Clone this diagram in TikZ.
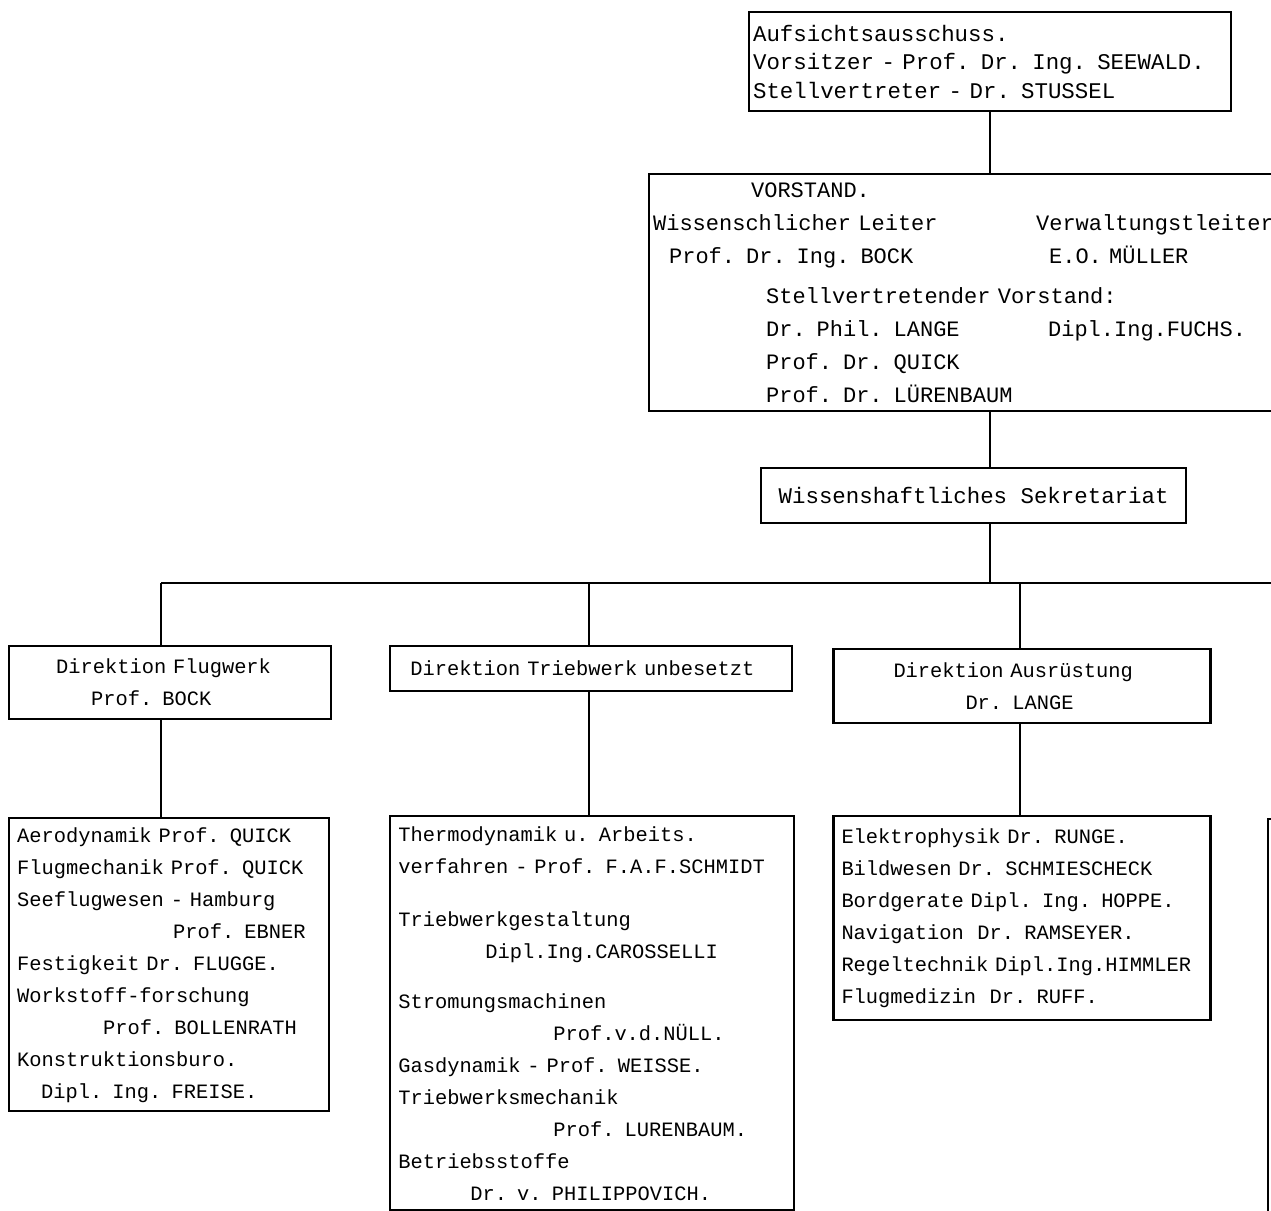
\documentclass[tikz,border=0pt]{standalone}
\usepackage{fontspec}
\setmonofont{Liberation Mono}
\usepackage{tikz}
\usetikzlibrary{positioning}
\newcommand{\shiftin}[1]{\hspace*{#1}}

\begin{document}
\begin{tikzpicture}[x=0.5pt,y=-0.5pt,line width=1.1pt,
  every node/.style={inner ysep=0pt},
  headbox/.style={draw,anchor=north west,align=left,inner xsep=2pt,font=\ttfamily\fontsize{11.2}{14.25}\selectfont},
  dirbox/.style={draw,anchor=north west,align=left,inner xsep=2pt,font=\ttfamily\fontsize{10.2}{16}\selectfont},
  deptbox/.style={draw,anchor=north west,align=left,inner xsep=4pt,font=\ttfamily\fontsize{10.2}{16}\selectfont}]
  \useasboundingbox (0,0) rectangle (1271,1211);
  \clip (0,0) rectangle (1271,1211);
  % top of the chart
  \node[headbox,text width=237pt,minimum height=49.5pt](aufs) at (748,11) {Aufsichtsausschuss.\\
    Vorsitzer - Prof. Dr. Ing. SEEWALD.\\
    Stellvertreter - Dr. STUSSEL};
  \node[headbox,text width=322pt,minimum height=118.5pt,font=\ttfamily\fontsize{11}{16.5}\selectfont](vorst) at (648,173) {\shiftin{49pt}VORSTAND.\\
    \makebox[191.5pt][l]{Wissenschlicher Leiter}Verwaltungstleiter\\
    \shiftin{8pt}\makebox[190pt][l]{Prof. Dr. Ing. BOCK}E.O. MÜLLER\\[3.5pt]
    \shiftin{56.5pt}Stellvertretender Vorstand:\\
    \shiftin{56.5pt}\makebox[141pt][l]{Dr. Phil. LANGE}Dipl.Ing.FUCHS.\\
    \shiftin{56.5pt}Prof. Dr. QUICK\\
    \shiftin{56.5pt}Prof. Dr. LÜRENBAUM};
  \node[headbox,align=center,minimum width=212.5pt,minimum height=27.5pt](sekr) at (760,467) {Wissenshaftliches Sekretariat};
  \coordinate (bus) at (0,583);
  \coordinate (busend) at (1300,583);
  % direktionen
  \node[dirbox,text width=157pt,minimum height=36.5pt](flug) at (8,645) {\shiftin{21.5pt}Direktion Flugwerk\\
    \shiftin{39pt}Prof. BOCK};
  \node[dirbox,text width=197pt,minimum height=22.5pt](trieb) [right=28.5pt of flug.north east,anchor=north west] {\shiftin{8pt}Direktion Triebwerk unbesetzt};
  \node[dirbox,text width=184.5pt,minimum height=37pt](ausr) [right=19.5pt of trieb.north east,anchor=north west,yshift=-1.5pt] {\shiftin{28pt}Direktion Ausrüstung\\
    \shiftin{64pt}Dr. LANGE};
  % abteilungen
  \node[deptbox,text width=152pt,minimum height=146.5pt](flugsub) [below=48.5pt of flug.south west,anchor=north west] {Aerodynamik Prof. QUICK\\
    Flugmechanik Prof. QUICK\\
    Seeflugwesen - Hamburg\\
    \shiftin{78pt}Prof. EBNER\\
    Festigkeit Dr. FLUGGE.\\
    Workstoff-forschung\\
    \shiftin{43pt}Prof. BOLLENRATH\\
    Konstruktionsburo.\\
    \shiftin{12pt}Dipl. Ing. FREISE.};
  \node[deptbox,text width=194pt,minimum height=197pt](triebsub) [below=61.5pt of trieb.south west,anchor=north west] {Thermodynamik u. Arbeits.\\
    verfahren - Prof. F.A.F.SCHMIDT\\[10.5pt]
    Triebwerkgestaltung\\
    \shiftin{43.5pt}Dipl.Ing.CAROSSELLI\\[9pt]
    Stromungsmachinen\\
    \shiftin{77.5pt}Prof.v.d.NÜLL.\\
    Gasdynamik - Prof. WEISSE.\\
    Triebwerksmechanik\\
    \shiftin{77.5pt}Prof. LURENBAUM.\\
    Betriebsstoffe\\
    \shiftin{36pt}Dr. v. PHILIPPOVICH.};
  \node[deptbox,text width=180.5pt,minimum height=102pt](ausrsub) [below=45.5pt of ausr.south west,anchor=north west] {Elektrophysik Dr. RUNGE.\\
    Bildwesen Dr. SCHMIESCHECK\\
    Bordgerate Dipl. Ing. HOPPE.\\
    Navigation\ \ Dr. RAMSEYER.\\
    Regeltechnik Dipl.Ing.HIMMLER\\
    Flugmedizin\ \ Dr. RUFF.};
  \node[draw,anchor=north west,minimum width=100pt,minimum height=250pt](nextsub) at (1267,818) {};
  % lines
  \draw (aufs.south) -- (aufs.south |- vorst.north);
  \draw (aufs.south |- vorst.south) -- (aufs.south |- sekr.north);
  \draw (aufs.south |- sekr.south) -- (aufs.south |- bus);
  \draw ([xshift=-4.5pt]flug.north |- bus) -- (busend);
  \draw ([xshift=-4.5pt]flug.north) -- ([xshift=-4.5pt]flug.north |- bus);
  \draw ([xshift=-1pt]trieb.north) -- ([xshift=-1pt]trieb.north |- bus);
  \draw ([xshift=-1pt]ausr.north) -- ([xshift=-1pt]ausr.north |- bus);
  \draw ([xshift=-4.5pt]flug.south) -- ([xshift=-4.5pt]flug.south |- flugsub.north);
  \draw ([xshift=-1pt]trieb.south) -- ([xshift=-1pt]trieb.south |- triebsub.north);
  \draw ([xshift=-1pt]ausr.south) -- ([xshift=-1pt]ausr.south |- ausrsub.north);
\end{tikzpicture}
\end{document}
